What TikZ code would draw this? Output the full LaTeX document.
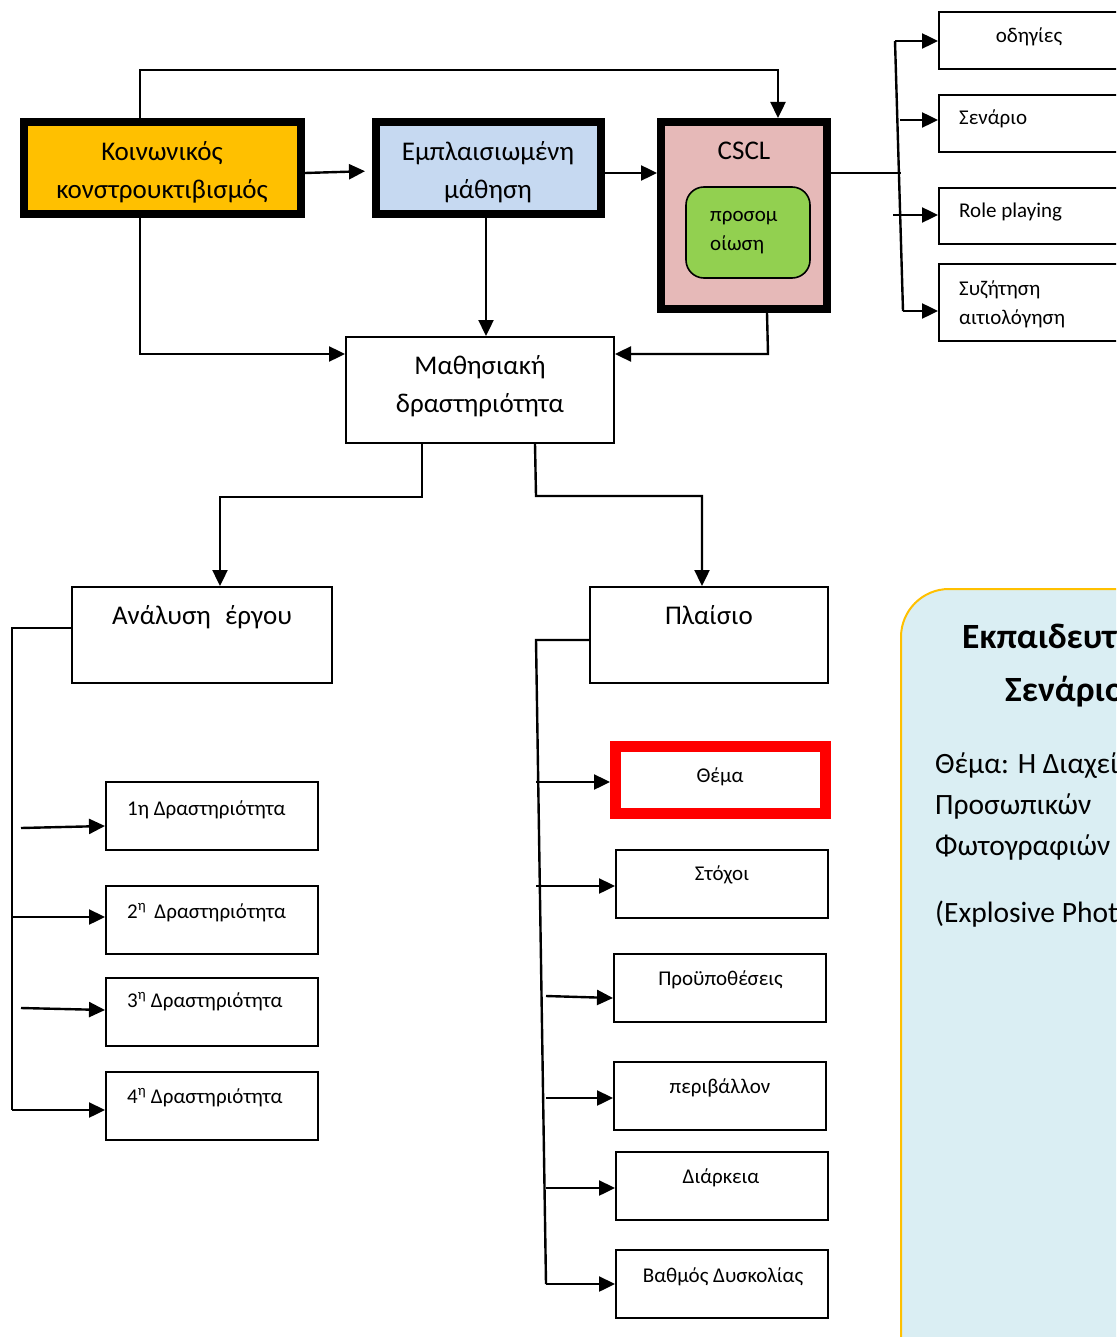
\documentclass[tikz,border=0pt]{standalone}
\usepackage{fontspec}
\setmainfont{Carlito}
\usetikzlibrary{arrows.meta}
\definecolor{korange}{HTML}{FFC000}
\definecolor{kblue}{HTML}{C6D9F1}
\definecolor{kpink}{HTML}{E6B9B8}
\definecolor{kgreen}{HTML}{92D050}
\definecolor{kcyan}{HTML}{DAEEF3}
\definecolor{kred}{HTML}{FF0000}
\newcommand\fbig{\fontsize{27}{32}\selectfont}
\newcommand\fpanel{\fontsize{29.5}{34}\selectfont}
\newcommand\fsmall{\fontsize{21}{25}\selectfont}
\newcommand\ftitle{\fontsize{35.5}{40}\selectfont\bfseries}
\begin{document}
\begin{tikzpicture}[x=1pt,y=-1pt,
  conn/.style={line width=2.4pt},
  arr/.style={conn,-{Triangle[length=16pt,width=15pt]}},
  frame/.style={draw, line width=2pt, inner sep=0pt, rectangle},
  heavy/.style={draw, line width=8pt, inner sep=0pt, rectangle},
  lbl/.style={inner sep=0pt, anchor=base},
  lbll/.style={inner sep=0pt, anchor=base west},
]
\useasboundingbox (0,0) rectangle (1116,1337);
\clip (0,0) rectangle (1116,1337);

% big scenario panel
\node[draw=korange, fill=kcyan, line width=2pt, rounded corners=48pt, inner sep=0pt,
      minimum width=400pt, minimum height=850pt, anchor=north west] (scen) at (900,588) {};
\node[lbll] (scenA) at (962,648) {\ftitle Εκπαιδευτικό};
\node[lbll] (scenB) at (1005,701) {\ftitle Σενάριο};
\node[lbll] (scenC) at (935,773) {\fpanel Θέμα: Η Διαχείριση};
\node[lbll] (scenD) at (935,814) {\fpanel Προσωπικών};
\node[lbll] (scenE) at (935,855) {\fpanel Φωτογραφιών};
\node[lbll] (scenF) at (935,922) {\fpanel (Explosive Photos)};

% top boxes
\node[heavy, fill=korange, minimum width=277pt, minimum height=92pt] (koin) at (162.5,168) {};
\node[heavy, fill=kblue, minimum width=225pt, minimum height=92pt] (empl) at (488.5,168) {};
\node[heavy, fill=kpink, minimum width=166pt, minimum height=187pt] (cscl) at (744,215.5) {};
\node[draw, line width=1.6pt, inner sep=0pt, fill=kgreen, rounded corners=18pt,
      minimum width=124pt, minimum height=91pt] (sim) at (748,232.5) {};

\node[lbl] (koinA) at (162,161) {\fbig Κοινωνικός};
\node[lbl] (koinB) at (162,199) {\fbig κονστρουκτιβισμός};
\node[lbl] (emplA) at (488,161) {\fbig Εμπλαισιωμένη};
\node[lbl] (emplB) at (488,199) {\fbig μάθηση};
\node[lbl] (csclT) at (744,160) {\fbig CSCL};
\node[lbll] (simA) at (710,222) {\fsmall προσομ};
\node[lbll] (simB) at (710,251) {\fsmall οίωση};

% right boxes
\node[frame, minimum width=240pt, minimum height=57pt] (odig) at (1059,40.5) {};
\node[frame, minimum width=240pt, minimum height=57pt] (sen) at (1059,123.5) {};
\node[frame, minimum width=240pt, minimum height=56pt] (role) at (1059,216) {};
\node[frame, minimum width=240pt, minimum height=77pt] (syz) at (1059,302.5) {};
\node[lbl] (odigT) at (1029,43) {\fsmall οδηγίες};
\node[lbll] (senT) at (959,125) {\fsmall Σενάριο};
\node[lbll] (roleT) at (959,218) {\fsmall Role playing};
\node[lbll] (syzA) at (959,295) {\fsmall Συζήτηση};
\node[lbll] (syzB) at (959,324) {\fsmall αιτιολόγηση};

% middle
\node[frame, minimum width=268pt, minimum height=106pt] (math) at (480,390) {};
\node[lbl] (mathA) at (480,374) {\fbig Μαθησιακή};
\node[lbl] (mathB) at (480,412) {\fbig δραστηριότητα};

\node[frame, minimum width=260pt, minimum height=96pt] (anal) at (202,635) {};
\node[frame, minimum width=238pt, minimum height=96pt] (plais) at (709,635) {};
\node[lbl] (analT) at (202,624) {\fbig Ανάλυση\hspace{0.3em} έργου};
\node[lbl] (plaisT) at (709,624) {\fbig Πλαίσιο};

% activities
\node[frame, minimum width=212pt, minimum height=68pt] (a1) at (212,816) {};
\node[frame, minimum width=212pt, minimum height=68pt] (a2) at (212,920) {};
\node[frame, minimum width=212pt, minimum height=68pt] (a3) at (212,1012) {};
\node[frame, minimum width=212pt, minimum height=68pt] (a4) at (212,1106) {};
\node[lbll] (a1T) at (127,815) {\fsmall 1η Δραστηριότητα};
\node[lbll] (a2T) at (127,918) {\fsmall 2\textsuperscript{η}\, Δραστηριότητα};
\node[lbll] (a3T) at (127,1007) {\fsmall 3\textsuperscript{η} Δραστηριότητα};
\node[lbll] (a4T) at (127,1103) {\fsmall 4\textsuperscript{η} Δραστηριότητα};

% context items
\node[draw=kred, line width=11pt, inner sep=0pt, minimum width=210pt, minimum height=67pt] (thema) at (720.5,780) {};
\node[frame, minimum width=212pt, minimum height=68pt] (stox) at (722,884) {};
\node[frame, minimum width=212pt, minimum height=68pt] (proy) at (720,988) {};
\node[frame, minimum width=212pt, minimum height=68pt] (peri) at (720,1096) {};
\node[frame, minimum width=212pt, minimum height=68pt] (diar) at (722,1186) {};
\node[frame, minimum width=212pt, minimum height=68pt] (vath) at (722,1284) {};
\node[lbl] (themaT) at (720,782) {\fsmall Θέμα};
\node[lbl] (stoxT) at (722,880) {\fsmall Στόχοι};
\node[lbl] (proyT) at (720.5,985) {\fsmall Προϋποθέσεις};
\node[lbl] (periT) at (720,1093) {\fsmall περιβάλλον};
\node[lbl] (diarT) at (721,1183) {\fsmall Διάρκεια};
\node[lbl] (vathT) at (723,1282) {\fsmall Βαθμός Δυσκολίας};

% connectors top
\draw[arr] (koin.north -| 140,0) |- (778,70) -- (cscl.north -| 778,0);
\draw[arr, shorten >=7pt] ([yshift=-5pt]koin.east) -- ([yshift=-3pt]empl.west);
\draw[arr] (empl.east |- 0,173) -- (cscl.west |- 0,173);
\draw[arr] (empl.south -| 486,0) -- (math.north -| 486,0);
\draw[arr] (koin.south -| 140,0) |- (math.west |- 0,354);
\draw[arr] (cscl.south -| 767,0) -- (768,354) -- (math.east |- 0,354);
\draw[arr] (math.south -| 422,0) |- (220,497) -- (anal.north -| 220,0);
\draw[arr] (math.south -| 535,0) -- (536,496) -| (plais.north -| 702,0);

% right bus
\coordinate (rbM) at (901,173);
\coordinate (rbT) at (895,41);
\coordinate (rbB) at (903,311);
\coordinate (rb2) at (900,120);
\coordinate (rb3) at (893,215);
\draw[conn] (cscl.east |- rbM) -- (rbM);
\draw[conn] (rbB) -- (rbT);
\draw[arr] (rbT) -- (odig.west |- rbT);
\draw[arr] (rb2) -- (sen.west |- rb2);
\draw[arr] (rb3) -- (role.west |- rb3);
\draw[arr] (rbB) -- (syz.west |- rbB);

% left bus
\coordinate (lbT) at (12,628);
\coordinate (lbB) at (12,1110);
\coordinate (l1) at (21,828);
\coordinate (l2) at (12,917);
\coordinate (l3) at (21,1008);
\draw[conn] (anal.west |- lbT) -- (lbT) -- (lbB);
\draw[arr] (lbB) -- (a4.west |- lbB);
\draw[arr] (l1) -- (a1.west |- 0,826);
\draw[arr] (l2) -- (a2.west |- l2);
\draw[arr] (l3) -- (a3.west |- 0,1010);

% middle bus
\coordinate (mbT) at (536,640);
\coordinate (mbB) at (546,1284);
\coordinate (m1) at (536,782);
\coordinate (m2) at (536,886);
\coordinate (m3) at (546,996);
\coordinate (m4) at (546,1098);
\coordinate (m5) at (546,1188);
\draw[conn] (plais.west |- mbT) -- (mbT) -- (mbB);
\draw[arr] (mbB) -- (vath.west |- mbB);
\draw[arr] (m1) -- (thema.west |- m1);
\draw[arr] (m2) -- (stox.west |- m2);
\draw[arr] (m3) -- (proy.west |- 0,998);
\draw[arr] (m4) -- (peri.west |- m4);
\draw[arr] (m5) -- (diar.west |- m5);
\end{tikzpicture}
\end{document}
